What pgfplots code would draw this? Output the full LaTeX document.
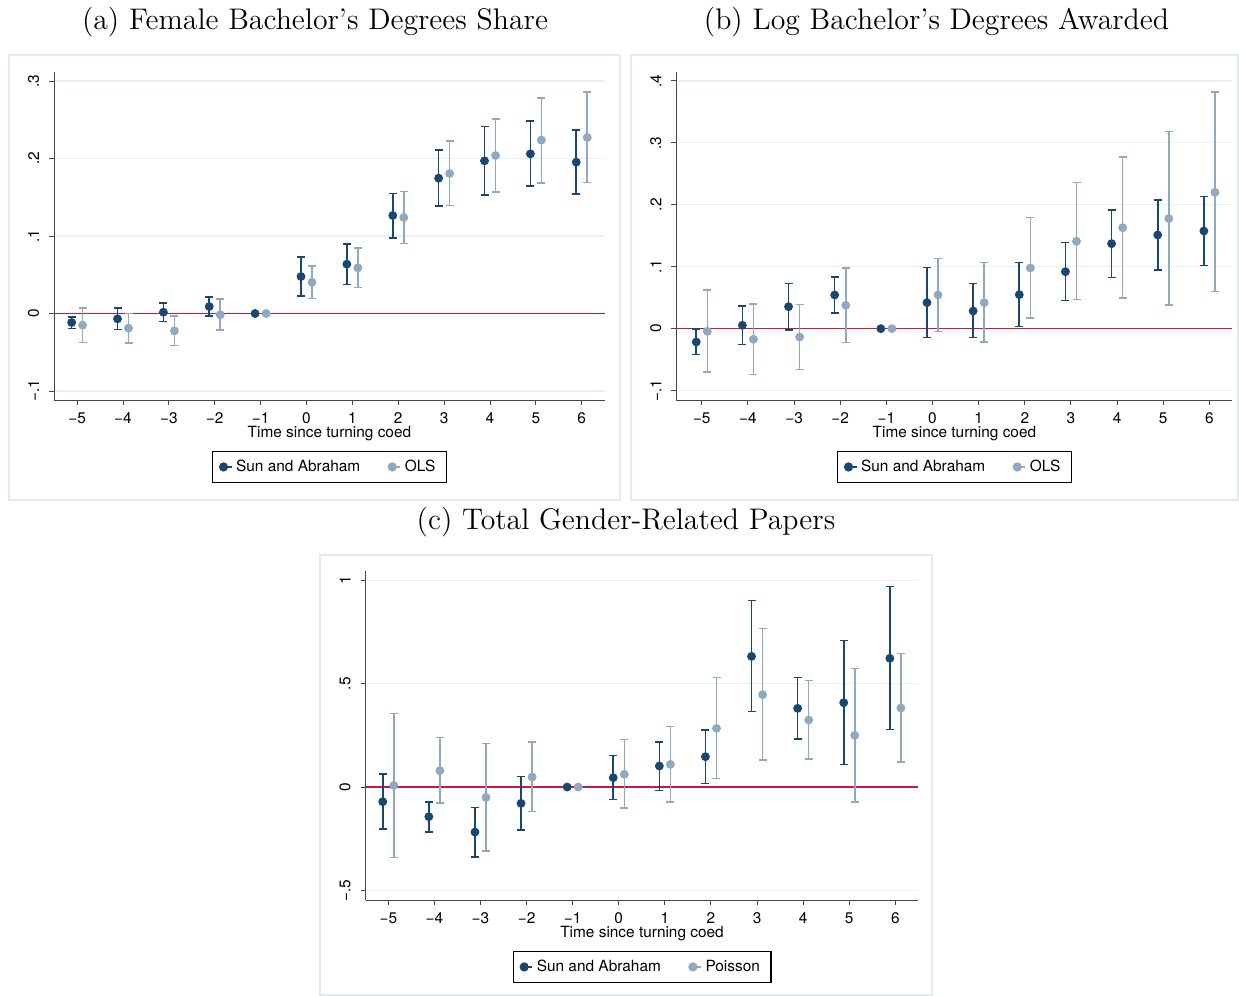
\documentclass[border=0pt]{standalone}
\usepackage{fontspec}
\setsansfont{TeX Gyre Heros}
\usepackage{pgfplots}
\usepackage{pgfplotstable}
\pgfplotsset{compat=1.18}
\definecolor{sanavy}{RGB}{26,71,111}
\definecolor{olsc}{RGB}{144,168,192}
\definecolor{zeroc}{RGB}{200,24,64}
\definecolor{gridc}{RGB}{234,242,243}
\definecolor{boxc}{RGB}{226,234,236}
\definecolor{axc}{RGB}{70,70,70}

% Panel (a)
\pgfplotstableread{
t y lo hi
-5 -0.0116 -0.0194 -0.0043
-4 -0.0069 -0.0206 0.0073
-3 0.0017 -0.0103 0.0138
-2 0.0090 -0.0034 0.0210
-1 0 0 0
0 0.0477 0.0228 0.0727
1 0.0637 0.0374 0.0899
2 0.1265 0.0976 0.1548
3 0.1746 0.1385 0.2108
4 0.1970 0.1527 0.2413
5 0.2060 0.1643 0.2482
6 0.1953 0.1540 0.2370
}\aSA
\pgfplotstableread{
t y lo hi
-5 -0.0150 -0.0374 0.0073
-4 -0.0189 -0.0378 0.0000
-3 -0.0224 -0.0413 -0.0030
-2 -0.0017 -0.0215 0.0190
-1 0 0 0
0 0.0404 0.0194 0.0615
1 0.0589 0.0335 0.0843
2 0.1239 0.0903 0.1574
3 0.1806 0.1394 0.2228
4 0.2039 0.1570 0.2508
5 0.2237 0.1686 0.2783
6 0.2271 0.1690 0.2856
}\aOLS
% Panel (b)
\pgfplotstableread{
t y lo hi
-5 -0.0215 -0.0415 -0.0010
-4 0.0054 -0.0258 0.0366
-3 0.0355 -0.0020 0.0727
-2 0.0544 0.0253 0.0834
-1 0 0 0
0 0.0420 -0.0140 0.0985
1 0.0285 -0.0145 0.0727
2 0.0549 0.0038 0.1066
3 0.0920 0.0452 0.1389
4 0.1373 0.0829 0.1917
5 0.1513 0.0948 0.2073
6 0.1577 0.1023 0.2137
}\bSA
\pgfplotstableread{
t y lo hi
-5 -0.0043 -0.0700 0.0624
-4 -0.0172 -0.0738 0.0398
-3 -0.0135 -0.0662 0.0388
-2 0.0377 -0.0221 0.0980
-1 0 0 0
0 0.0544 -0.0043 0.1131
1 0.0420 -0.0215 0.1071
2 0.0980 0.0172 0.1793
3 0.1410 0.0468 0.2358
4 0.1631 0.0495 0.2773
5 0.1777 0.0382 0.3182
6 0.2202 0.0597 0.3817
}\bOLS
% Panel (c)
\pgfplotstableread{
t y lo hi
-5 -0.0710 -0.2032 0.0629
-4 -0.1435 -0.2177 -0.0710
-3 -0.2177 -0.3387 -0.0984
-2 -0.0790 -0.2065 0.0500
-1 0 0 0
0 0.0452 -0.0613 0.1532
1 0.1016 -0.0161 0.2177
2 0.1468 0.0177 0.2758
3 0.6320 0.3645 0.9016
4 0.3806 0.2323 0.5290
5 0.4080 0.1080 0.7097
6 0.6226 0.2774 0.9694
}\cSA
\pgfplotstableread{
t y lo hi
-5 0.0080 -0.3403 0.3565
-4 0.0790 -0.0774 0.2387
-3 -0.0500 -0.3097 0.2113
-2 0.0484 -0.1190 0.2177
-1 0 0 0
0 0.0613 -0.1016 0.2290
1 0.1097 -0.0710 0.2919
2 0.2839 0.0403 0.5290
3 0.4468 0.1306 0.7660
4 0.3242 0.1355 0.5145
5 0.2500 -0.0726 0.5742
6 0.3823 0.1210 0.6468
}\cPO

\newcommand{\axfont}{\sffamily\fontsize{7.7}{9}\selectfont}
\pgfplotsset{
  stata/.style={
    scale only axis,
    axis x line*=bottom,
    axis y line*=left,
    axis line style={-, line width=0.5pt, axc},
    tick align=outside,
    major tick length=2.5pt,
    tick style={line width=0.5pt, axc},
    xtick={-5,-4,-3,-2,-1,0,1,2,3,4,5,6},
    xticklabels={−5,−4,−3,−2,−1,0,1,2,3,4,5,6},
    xmax=6.5,
    ymajorgrids,
    grid style={gridc, line width=0.6pt},
    yticklabel style={xshift=-1.5pt, rotate=90, anchor=south},
    tick label style={font=\axfont},
    label style={font=\axfont},
    xlabel={Time since turning coed},
    xlabel style={yshift=5.5pt},
    legend columns=2,
    legend style={at={(0.5,0)}, anchor=north, yshift=-25.4pt, draw=black,
      line width=0.6pt, font=\axfont, inner xsep=3.5pt, inner ysep=2pt,
      /tikz/every even column/.append style={column sep=12pt}},
    clip=false,
  },
  zline/.style={zeroc, line width=0.7pt, forget plot},
  pts/.style={only marks, mark=*, mark size=2pt, forget plot,
    error bars/y dir=both, error bars/y explicit,
    error bars/error bar style={line width=0.8pt},
    error bars/error mark options={rotate=90, mark size=2pt, line width=0.8pt}},
  legimg/.style={only marks, mark=*, mark size=2pt,
    legend image code/.code={\draw[##1] plot coordinates {(0pt,0pt)}; \path (0pt,0pt) -- (4pt,0pt);}},
}

\begin{document}
\begin{tikzpicture}
\useasboundingbox (0,0) rectangle (619.5pt,-498pt);
\draw[boxc, line width=0.6pt] (4.5pt,-27.5pt) rectangle (310pt,-250pt);
\draw[boxc, line width=0.6pt] (315.5pt,-27.5pt) rectangle (619pt,-250pt);
\draw[boxc, line width=0.6pt] (160pt,-277.5pt) rectangle (466pt,-497.5pt);
\node[anchor=base, font=\fontsize{14.9}{17}\selectfont] at (157.5pt,-14.65pt) {(a) Female Bachelor's Degrees Share};
\node[anchor=base, font=\fontsize{14.9}{17}\selectfont] at (468.25pt,-14.65pt) {(b) Log Bachelor's Degrees Awarded};
\node[anchor=base, font=\fontsize{14.9}{17}\selectfont] at (313pt,-264.75pt) {(c) Total Gender-Related Papers};

% (a)
\begin{axis}[stata, at={(27.1pt,-200.15pt)}, anchor=south west,
  width=275.25pt, height=164.3pt, xmin=-5.5, ymin=-0.112, ymax=0.312,
  ytick={-0.1,0,0.1,0.2,0.3}, yticklabels={−.1,0,.1,.2,.3}]
\addplot[zline] coordinates {(-5.5,0) (6.5,0)};
\addplot[pts, olsc] table[x expr=\thisrow{t}+0.12, y=y,
  y error plus expr=\thisrow{hi}-\thisrow{y},
  y error minus expr=\thisrow{y}-\thisrow{lo}]{\aOLS};
\addplot[pts, sanavy] table[x expr=\thisrow{t}-0.12, y=y,
  y error plus expr=\thisrow{hi}-\thisrow{y},
  y error minus expr=\thisrow{y}-\thisrow{lo}]{\aSA};
\addlegendimage{legimg, sanavy}
\addlegendentry{Sun and Abraham}
\addlegendimage{legimg, olsc}
\addlegendentry{OLS}
\end{axis}

% (b)
\begin{axis}[stata, at={(338.2pt,-200.15pt)}, anchor=south west,
  width=278.05pt, height=164.3pt, xmin=-5.55, ymin=-0.1157, ymax=0.415,
  ytick={-0.1,0,0.1,0.2,0.3,0.4}, yticklabels={−.1,0,.1,.2,.3,.4}]
\addplot[zline] coordinates {(-5.55,0) (6.5,0)};
\addplot[pts, olsc] table[x expr=\thisrow{t}+0.12, y=y,
  y error plus expr=\thisrow{hi}-\thisrow{y},
  y error minus expr=\thisrow{y}-\thisrow{lo}]{\bOLS};
\addplot[pts, sanavy] table[x expr=\thisrow{t}-0.12, y=y,
  y error plus expr=\thisrow{hi}-\thisrow{y},
  y error minus expr=\thisrow{y}-\thisrow{lo}]{\bSA};
\addlegendimage{legimg, sanavy}
\addlegendentry{Sun and Abraham}
\addlegendimage{legimg, olsc}
\addlegendentry{OLS}
\end{axis}

% (c)
\begin{axis}[stata, at={(182.85pt,-450.15pt)}, anchor=south west,
  width=276.35pt, height=164.65pt, xmin=-5.49, ymin=-0.548, ymax=1.045,
  ytick={-0.5,0,0.5,1}, yticklabels={−.5,0,.5,1}]
\addplot[zline] coordinates {(-5.49,0) (6.5,0)};
\addplot[pts, olsc] table[x expr=\thisrow{t}+0.12, y=y,
  y error plus expr=\thisrow{hi}-\thisrow{y},
  y error minus expr=\thisrow{y}-\thisrow{lo}]{\cPO};
\addplot[pts, sanavy] table[x expr=\thisrow{t}-0.12, y=y,
  y error plus expr=\thisrow{hi}-\thisrow{y},
  y error minus expr=\thisrow{y}-\thisrow{lo}]{\cSA};
\addlegendimage{legimg, sanavy}
\addlegendentry{Sun and Abraham}
\addlegendimage{legimg, olsc}
\addlegendentry{Poisson}
\end{axis}
\end{tikzpicture}
\end{document}
